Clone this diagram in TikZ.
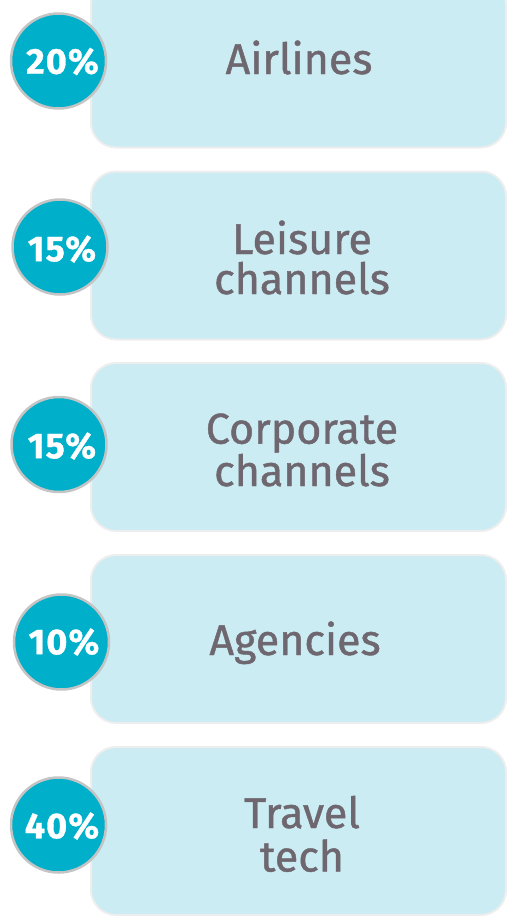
\documentclass[tikz,border=0pt]{standalone}
\usepackage{fontspec}
\setmainfont{Fira Sans}
\newfontfamily\segfont[FakeBold=1.0]{Fira Sans}
\newfontfamily\pctfont[LetterSpace=3,FakeBold=0.8]{Fira Sans}
\definecolor{boxfill}{HTML}{CAECF2}
\definecolor{boxline}{HTML}{EEEEEE}
\definecolor{discfill}{HTML}{00AFCA}
\definecolor{discline}{HTML}{C4C4C4}
\definecolor{labeltext}{HTML}{6F6770}
\begin{document}
\begin{tikzpicture}[x=1pt,y=-1pt,
  segbox/.style={rectangle, rounded corners=25pt, fill=boxfill, draw=boxline,
    line width=2pt, minimum width=415pt, minimum height=168pt, inner sep=0pt},
  disc/.style={circle, fill=discfill, draw=discline, line width=2.5pt,
    minimum size=95pt, inner sep=0pt},
  pct/.style={text=white, font=\pctfont\bfseries\fontsize{36}{36}\selectfont, inner sep=0pt},
  seglabel/.style={text=labeltext, align=center, anchor=base, inner sep=0pt,
    font=\segfont\fontsize{43}{#1}\selectfont},
  seglabel/.default=40pt]
\useasboundingbox (0,0) rectangle (507,921);
\clip (0,0) rectangle (507,921);
% segment boxes
\node[segbox] (b1) at (298.5,63.5) {};
\node[segbox] (b2) at (298.5,255.5) {};
\node[segbox] (b3) at (298.5,447) {};
\node[segbox] (b4) at (298.5,639) {};
\node[segbox] (b5) at (298.5,831) {};
% segment names (anchored at the baseline of the last line)
\node[seglabel] (t1) at (299,74) {Airlines};
\node[seglabel=40pt] (t2) at (302,294) {Leisure\\channels};
\node[seglabel=34pt] (t3) at (302,486) {Corporate\\channels};
\node[seglabel] (t4) at (295,655) {Agencies};
\node[seglabel=43.5pt] (t5) at (302,871.5) {Travel\\tech};
% share discs
\node[disc] (c1) at (58.5,61) {};
\node[disc] (c2) at (60,247) {};
\node[disc] (c3) at (59,444.5) {};
\node[disc] (c4) at (61.5,642) {};
\node[disc] (c5) at (58.5,825) {};
\node[pct] (p1) at (62.5,61.5) {20\%};
\node[pct] (p2) at (62,249) {15\%};
\node[pct] (p3) at (62,446) {15\%};
\node[pct] (p4) at (64,642) {10\%};
\node[pct] (p5) at (62,826) {40\%};
\end{tikzpicture}
\end{document}
